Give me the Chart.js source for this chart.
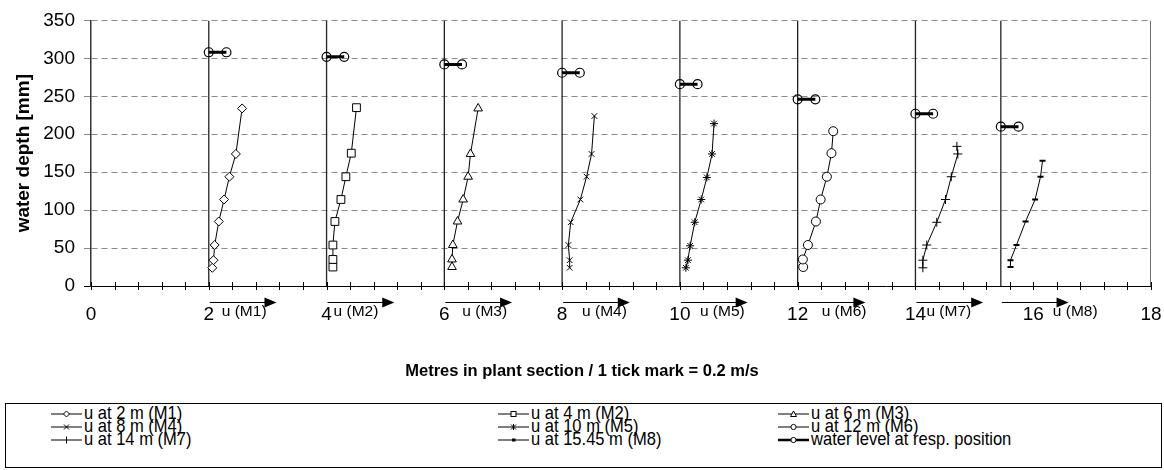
<!DOCTYPE html>
<html>
<head>
<meta charset="utf-8">
<script src="https://cdn.jsdelivr.net/npm/chart.js@4.4.0/dist/chart.umd.min.js"></script>
<style>
  html, body { margin: 0; padding: 0; background: #fff; }
  #wrap { position: relative; width: 1164px; height: 470px; overflow: hidden; }
  #box { position: absolute; left: 0; top: 0; width: 1164px; height: 400px; }
  #legend { position: absolute; left: 5px; top: 403px; width: 1157px; height: 65px; border: 1px solid #000;
            box-sizing: border-box; font-family: 'Liberation Sans', Arial, sans-serif; font-size: 19px; color: #000; }
  .item { position: absolute; height: 14px; white-space: nowrap; }
  .item svg { position: absolute; left: 0; top: 0; }
  .item span { position: absolute; left: 33px; top: -4px; line-height: 20px; transform: scaleX(0.87); transform-origin: left center; }
</style>
</head>
<body>
<div id="wrap">
  <div id="box"><canvas id="c"></canvas></div>
  <div id="legend"></div>
</div>
<script>
// measuring positions along the section [m]
const stations = [2, 4, 6, 8, 10, 12, 14, 15.45];
const profileNames = ['u at 2 m (M1)', 'u at 4 m (M2)', 'u at 6 m (M3)', 'u at 8 m (M4)',
                      'u at 10 m (M5)', 'u at 12 m (M6)', 'u at 14 m (M7)', 'u at 15.45 m (M8)'];
const arrowLabels = ['u (M1)', 'u (M2)', 'u (M3)', 'u (M4)', 'u (M5)', 'u (M6)', 'u (M7)', 'u (M8)'];

// depth [mm] and velocity u [m/s] of each profile
const depthM1 = [24, 34, 54, 85, 114, 144, 174, 234];
const velM1   = [0.030, 0.040, 0.050, 0.085, 0.130, 0.175, 0.230, 0.283];
const depthM2 = [25, 35, 54, 85, 114, 144, 175, 235];
const velM2   = [0.054, 0.054, 0.054, 0.071, 0.122, 0.164, 0.210, 0.254];
const depthM3 = [25, 35, 54, 85, 114, 144, 174, 234];
const velM3   = [0.065, 0.065, 0.072, 0.112, 0.160, 0.202, 0.222, 0.287];
const depthM4 = [24, 34, 54, 84, 114, 144, 174, 224];
const velM4   = [0.064, 0.064, 0.053, 0.073, 0.155, 0.208, 0.250, 0.274];
const depthM5 = [24, 34, 53, 84, 114, 143, 174, 214];
const velM5   = [0.051, 0.068, 0.087, 0.126, 0.181, 0.229, 0.273, 0.290];
const depthM6 = [25, 35, 54, 85, 114, 144, 175, 204];
const velM6   = [0.047, 0.044, 0.087, 0.155, 0.195, 0.248, 0.287, 0.302];
const depthM7 = [24, 34, 54, 84, 114, 144, 174, 184];
const velM7   = [0.063, 0.063, 0.096, 0.181, 0.255, 0.304, 0.360, 0.352];
const depthM8 = [25, 34, 54, 85, 114, 144, 165];
const velM8   = [0.082, 0.082, 0.133, 0.210, 0.291, 0.337, 0.354];

// water level [mm] at each position
const waterLevel = [308, 302, 292, 281, 266, 246, 227, 210];

// 1 tick mark (0.4 m on the axis) = 0.2 m/s
const UNITS_PER_MS = 2;
const WL_BAR = 0.3;          // length of the water level bar in axis units
const ARROW_LEN = 1.15;      // length of the u arrows in axis units
const labelShift = [13, 7, 18, 20, 20, 24, 11, 52];  // px from station to "u (Mx)" text

const depths = [depthM1, depthM2, depthM3, depthM4, depthM5, depthM6, depthM7, depthM8];
const vels = [velM1, velM2, velM3, velM4, velM5, velM6, velM7, velM8];
const styles = ['rectRot', 'rect', 'triangle', 'crossRot', 'star', 'circle', 'cross', 'line'];
const radii = [4.5, 5.5, 5, 4, 4, 4.5, 4.5, 3];

const FONT = "'Liberation Sans', Arial, sans-serif";

const datasets = [];
stations.forEach((s, i) => {
  datasets.push({
    label: profileNames[i],
    data: depths[i].map((d, j) => ({x: s + vels[i][j] * UNITS_PER_MS, y: d})),
    borderColor: '#000',
    borderWidth: 1,
    backgroundColor: '#fff',
    pointStyle: styles[i],
    pointRadius: radii[i],
    pointBorderWidth: i === 7 ? 2 : 1,
    pointBorderColor: '#000',
    pointBackgroundColor: '#fff',
    tension: 0,
    order: 1
  });
});

// water level bars
const wlData = [];
stations.forEach((s, i) => {
  wlData.push({x: s, y: waterLevel[i]}, {x: s + WL_BAR, y: waterLevel[i]}, {x: s + WL_BAR + 0.1, y: null});
});
datasets.push({
  label: 'water level at resp. position',
  data: wlData,
  borderColor: '#000',
  borderWidth: 3,
  pointStyle: 'circle',
  pointRadius: 4.5,
  pointBorderWidth: 1.2,
  pointBorderColor: '#000',
  pointBackgroundColor: 'rgba(255,255,255,0)',
  spanGaps: false,
  order: 0
});

// vertical lines at each measuring position and at the right edge
const vData = [];
stations.concat([18]).forEach(s => {
  vData.push({x: s, y: 0}, {x: s, y: 350}, {x: s, y: null});
});
datasets.push({
  label: 'positions',
  data: vData,
  borderColor: '#222',
  borderWidth: 1.3,
  pointRadius: 0,
  spanGaps: false,
  order: 10
});

const annot = {
  id: 'annot',
  afterDraw(chart) {
    const {ctx, scales: {x, y}} = chart;
    const base = y.getPixelForValue(0);
    ctx.save();
    ctx.strokeStyle = '#000';
    ctx.lineWidth = 1;
    x.ticks.forEach(t => {
      const px = Math.round(x.getPixelForValue(t.value)) + 0.5;
      ctx.beginPath();
      ctx.moveTo(px, base - 4);
      ctx.lineTo(px, base + 4);
      ctx.stroke();
    });
    const ay = base + 16;
    ctx.fillStyle = '#000';
    ctx.font = '15.5px ' + FONT;
    ctx.textBaseline = 'middle';
    ctx.textAlign = 'left';
    stations.forEach((s, i) => {
      const x0 = x.getPixelForValue(s) + 1;
      const x1 = x.getPixelForValue(s + ARROW_LEN);
      ctx.beginPath();
      ctx.moveTo(x0, ay + 0.5);
      ctx.lineTo(x1 - 10, ay + 0.5);
      ctx.stroke();
      ctx.beginPath();
      ctx.moveTo(x1, ay + 0.5);
      ctx.lineTo(x1 - 12, ay - 4.5);
      ctx.lineTo(x1 - 12, ay + 5.5);
      ctx.closePath();
      ctx.fill();
      ctx.fillText(arrowLabels[i], x.getPixelForValue(s) + labelShift[i], base + 26);
    });
    ctx.restore();
  }
};

new Chart(document.getElementById('c'), {
  type: 'line',
  data: {datasets: datasets},
  options: {
    responsive: true,
    maintainAspectRatio: false,
    animation: false,
    layout: {padding: {top: 20, right: 0, left: 0, bottom: 0}},
    plugins: {
      legend: {display: false},
      tooltip: {enabled: false},
      title: {
        display: true,
        position: 'bottom',
        text: 'Metres in plant section / 1 tick mark = 0.2 m/s',
        color: '#000',
        font: {family: FONT, size: 16.5, weight: 'bold', lineHeight: 1.2},
        padding: {top: 0, bottom: 19}
      }
    },
    scales: {
      x: {
        type: 'linear',
        min: 0,
        max: 18,
        afterFit(scale) {
          scale.height = 400 - 286 - 38.8;
          scale.paddingRight = 13;
          scale.paddingLeft = 0;
        },
        grid: {display: false},
        border: {display: true, color: '#000', width: 1},
        ticks: {
          stepSize: 0.4,
          autoSkip: false,
          maxRotation: 0,
          padding: 9,
          color: '#000',
          font: {family: FONT, size: 19},
          callback(v) {
            const r = Math.round(v);
            return (Math.abs(v - r) < 1e-6 && r % 2 === 0) ? String(r) : '';
          }
        }
      },
      y: {
        min: 0,
        max: 350,
        afterFit(scale) { scale.width = 91; },
        grid: {
          color: ctx => ctx.tick && ctx.tick.value === 0 ? 'rgba(0,0,0,0)' : '#8a8a8a',
          tickColor: ctx => ctx.tick && ctx.tick.value === 0 ? '#000' : '#8a8a8a',
          tickBorderDash: [6, 4],
          tickLength: 7,
          lineWidth: 1
        },
        border: {display: true, color: '#333', width: 1.5, dash: [6, 4]},
        ticks: {
          stepSize: 50,
          padding: 9,
          color: '#000',
          font: {family: FONT, size: 19}
        },
        title: {
          display: true,
          text: 'water depth [mm]',
          color: '#000',
          font: {family: FONT, size: 19, weight: 'bold'},
          padding: {top: 12, bottom: 0}
        }
      }
    }
  },
  plugins: [annot]
});

// legend, laid out in three columns like the original
function marker(style) {
  const a = 'stroke="#000" stroke-width="1" fill="#fff"';
  switch (style) {
    case 'rectRot': return `<path d="M15.5 4 L18.5 7 L15.5 10 L12.5 7 Z" ${a}/>`;
    case 'rect': return `<rect x="13" y="4.5" width="5" height="5" ${a}/>`;
    case 'triangle': return `<path d="M15.5 4 L18.5 9.5 L12.5 9.5 Z" ${a}/>`;
    case 'crossRot': return `<path d="M13 4.5 L18 9.5 M18 4.5 L13 9.5" ${a}/>`;
    case 'star': return `<path d="M13 4.5 L18 9.5 M18 4.5 L13 9.5 M15.5 4 L15.5 10" ${a}/>`;
    case 'circle': return `<circle cx="15.5" cy="7" r="2.6" ${a}/>`;
    case 'cross': return `<path d="M15.5 3.5 L15.5 10.5" ${a}/>`;
    case 'line': return `<path d="M14 7 L17.5 7" stroke="#000" stroke-width="3"/>`;
    case 'water': return `<circle cx="15.5" cy="7" r="2.6" ${a}/>`;
  }
  return '';
}
const legendItems = profileNames.map((n, i) => ({name: n, style: styles[i], width: 1}))
  .concat([{name: 'water level at resp. position', style: 'water', width: 2.5}]);
const colX = [45, 492, 772];
const rowY = [3, 16, 29];
const legend = document.getElementById('legend');
legendItems.forEach((it, k) => {
  const d = document.createElement('div');
  d.className = 'item';
  d.style.left = colX[k % 3] + 'px';
  d.style.top = rowY[Math.floor(k / 3)] + 'px';
  d.innerHTML = `<svg width="32" height="14"><path d="M0 7 L31 7" stroke="#000" stroke-width="${it.width}"/>${marker(it.style)}</svg><span>${it.name}</span>`;
  legend.appendChild(d);
});
</script>
</body>
</html>
